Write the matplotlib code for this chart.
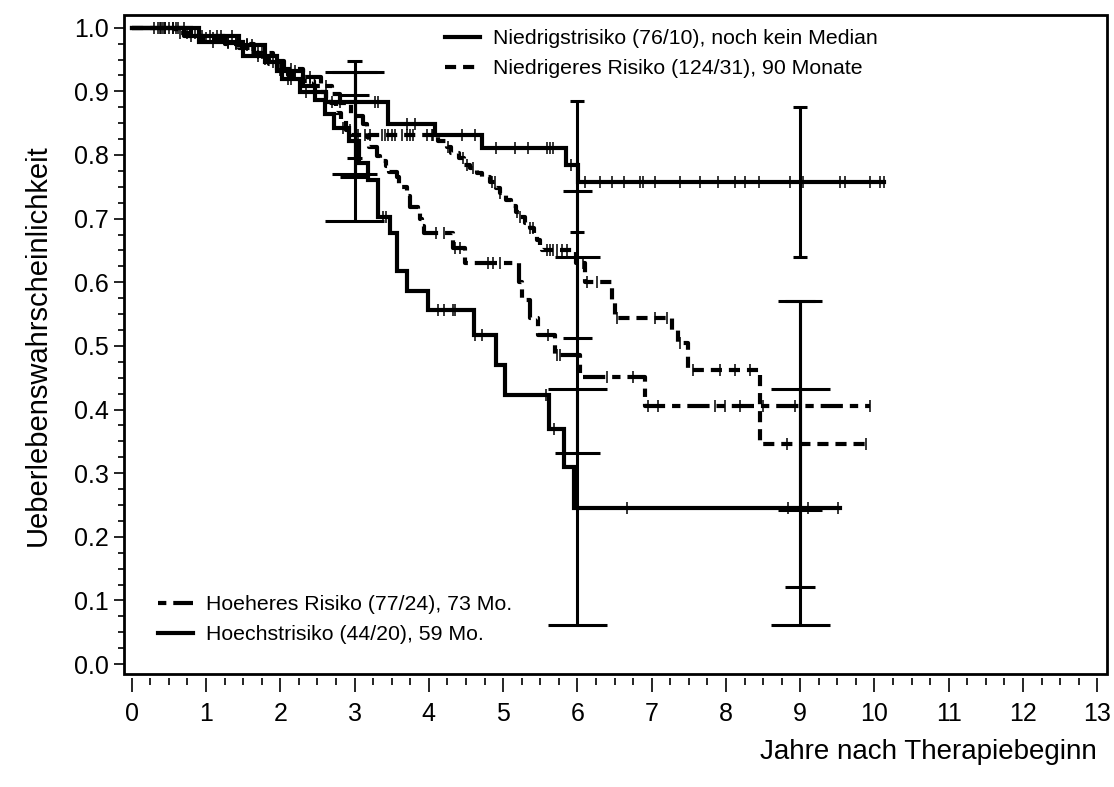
import matplotlib
matplotlib.use("Agg")
import matplotlib.pyplot as plt
from matplotlib.lines import Line2D
from matplotlib.patches import Rectangle
import numpy as np

plt.rcParams["font.family"] = ["Liberation Sans", "DejaVu Sans"]
plt.rcParams["lines.scale_dashes"] = False

# Kaplan-Meier curves: event times (years) and survival after each step,
# last follow-up time and censoring times per risk group

# Niedrigstrisiko
low_t = [0.80, 1.45, 1.80, 2.02, 2.26, 2.62, 3.45, 4.08, 4.72, 5.85, 6.01]
low_s = [0.987, 0.973, 0.946, 0.920, 0.899, 0.884, 0.849, 0.832, 0.811, 0.785, 0.757]
low_end = 10.13
low_cens = [0.35, 0.42, 0.50, 0.62, 0.70, 0.95, 1.05, 1.20, 1.35, 1.55, 1.62,
            1.90, 2.10, 2.15, 2.35, 2.45, 2.70, 2.80, 3.27, 3.32, 3.70, 3.81,
            4.45, 4.62, 4.91, 5.16, 5.34, 5.59, 5.63, 5.67, 5.92, 6.10, 6.30,
            6.46, 6.63, 6.84, 6.88, 7.05, 7.38, 7.65, 7.89, 8.12, 8.25, 8.45,
            8.86, 9.04, 9.53, 9.60, 9.94, 10.07, 10.13]

# Niedrigeres Risiko
lower_t = [0.60, 0.90, 1.20, 1.45, 1.60, 1.75, 1.85, 1.95, 2.10, 2.30, 2.45,
           2.55, 2.62, 2.68, 2.75, 2.82, 2.88, 2.95,
           4.12, 4.24, 4.30, 4.40, 4.48, 4.55, 4.65, 4.72, 4.82, 4.90, 4.96,
           5.04, 5.10, 5.18, 5.23, 5.30, 5.36, 5.42, 5.46, 5.50, 5.52,
           5.98, 6.10, 6.46, 6.50, 7.27, 7.36, 7.49, 8.46]
lower_s = [0.992, 0.984, 0.976, 0.968, 0.960, 0.951, 0.943, 0.934, 0.926, 0.917, 0.908,
           0.899, 0.890, 0.881, 0.866, 0.857, 0.840, 0.832,
           0.822, 0.813, 0.803, 0.795, 0.785, 0.779, 0.772, 0.766, 0.757, 0.748, 0.740,
           0.730, 0.720, 0.710, 0.703, 0.693, 0.685, 0.675, 0.667, 0.656, 0.651,
           0.630, 0.601, 0.572, 0.544, 0.525, 0.504, 0.462, 0.346]
lower_end = 9.89
lower_cens = [0.30, 0.38, 0.45, 0.55, 0.65, 0.75, 0.85, 1.00, 1.10, 1.30, 1.40,
              1.50, 1.70, 1.80, 2.00, 2.20, 2.40, 2.94, 3.05, 3.14, 3.21, 3.37,
              3.41, 3.45, 3.50, 3.55, 3.64, 3.71, 3.75, 3.79, 3.97, 4.04, 4.06,
              4.26, 4.46, 4.51, 4.59, 4.85, 4.89, 4.96, 5.19, 5.23, 5.36, 5.40,
              5.59, 5.63, 5.67, 5.72, 5.79, 5.86, 6.07, 6.13, 6.27, 6.53, 7.04,
              7.21, 7.38, 7.55, 7.92, 8.12, 8.32, 8.82, 9.89]

# Hoeheres Risiko
higher_t = [0.70, 1.25, 1.65, 1.90, 2.05, 2.30, 2.55, 2.70, 2.80, 2.95, 3.12,
            3.17, 3.20, 3.30, 3.34, 3.43, 3.47, 3.57, 3.60, 3.70, 3.74, 3.85,
            3.88, 3.91, 3.93, 4.33, 4.49, 5.21, 5.25, 5.36, 5.47, 5.70, 6.03, 6.91]
higher_s = [0.987, 0.974, 0.961, 0.948, 0.935, 0.922, 0.909, 0.896, 0.882, 0.862, 0.848,
            0.829, 0.813, 0.798, 0.790, 0.782, 0.774, 0.766, 0.750, 0.735, 0.719, 0.714,
            0.700, 0.688, 0.677, 0.654, 0.630, 0.601, 0.572, 0.544, 0.517, 0.486, 0.451, 0.405]
higher_end = 9.94
higher_cens = [0.40, 0.55, 0.80, 0.90, 1.15, 1.40, 1.55, 1.75, 2.15, 2.40, 2.62,
               4.10, 4.20, 4.35, 4.42, 4.80, 4.86, 4.96, 5.60, 5.72, 5.76,
               6.40, 6.75, 6.95, 7.08, 7.85, 7.99, 8.19, 8.50, 8.93, 9.94]

# Hoechstrisiko
highest_t = [0.90, 1.50, 1.95, 2.30, 2.47, 2.60, 2.72, 2.92, 3.06, 3.18, 3.31,
             3.48, 3.57, 3.71, 3.99, 4.61, 4.91, 5.02, 5.62, 5.82, 5.96]
highest_s = [0.977, 0.955, 0.932, 0.909, 0.886, 0.865, 0.843, 0.822, 0.788, 0.761, 0.703,
             0.677, 0.617, 0.587, 0.556, 0.517, 0.470, 0.423, 0.369, 0.310, 0.246]
highest_end = 9.53
highest_cens = [0.45, 0.60, 1.10, 1.30, 1.70, 2.20, 2.85, 3.38, 3.42, 4.12, 4.21,
                4.32, 4.35, 4.62, 4.72, 5.58, 5.69, 6.67, 8.83, 9.11, 9.51]

# pointwise confidence limits at 3, 6 and 9 years
ci_years = [3, 6, 9]
low_ci_lo = [0.795, 0.679, 0.639]
low_ci_hi = [0.947, 0.885, 0.875]
lower_ci_lo = [0.765, 0.512, 0.121]
lower_ci_hi = [0.895, 0.744, 0.571]
higher_ci_lo = [0.770, 0.331, 0.242]
higher_ci_hi = [0.930, 0.639, 0.571]
highest_ci_lo = [0.697, 0.061, 0.061]
highest_ci_hi = [0.930, 0.432, 0.432]

labels = [
    "Niedrigstrisiko (76/10), noch kein Median",
    "Niedrigeres Risiko (124/31), 90 Monate",
    "Hoeheres Risiko (77/24), 73 Mo.",
    "Hoechstrisiko (44/20), 59 Mo.",
]

LW = 3.0
SOLID = (None, None)
SHORT_DASH = (0, (8, 5))
LONG_SHORT = (0, (16, 5, 6, 5))


def step_xy(times, surv, end):
    x = np.concatenate([[0.0], times, [end]])
    y = np.concatenate([[1.0], surv, [surv[-1]]])
    return x, y


def surv_at(times, surv, pts):
    idx = np.searchsorted(times, pts, side="right")
    vals = np.concatenate([[1.0], surv])
    return vals[idx]


def plot_group(ax, times, surv, end, cens, ci_lo, ci_hi, cap, style):
    x, y = step_xy(times, surv, end)
    line, = ax.step(x, y, where="post", color="black", linewidth=LW,
                    solid_joinstyle="miter")
    if style != SOLID:
        line.set_linestyle(style)
    cy = surv_at(np.array(times), np.array(surv), np.array(cens))
    ax.plot(cens, cy, linestyle="none", marker="|", markersize=9,
            markeredgewidth=1.1, color="black")
    ax.vlines(ci_years, ci_lo, ci_hi, color="black", linewidth=2.2)
    xs = np.array(ci_years, dtype=float)
    ax.hlines(ci_lo, xs - cap / 2, xs + cap / 2, color="black", linewidth=2.2)
    ax.hlines(ci_hi, xs - cap / 2, xs + cap / 2, color="black", linewidth=2.2)


fig = plt.figure(figsize=(11.14, 7.87), dpi=100)
ax = fig.add_axes([0.1113, 0.1432, 0.8824, 0.8378])

plot_group(ax, low_t, low_s, low_end, low_cens, low_ci_lo, low_ci_hi, 0.19, SOLID)
plot_group(ax, lower_t, lower_s, lower_end, lower_cens, lower_ci_lo, lower_ci_hi, 0.40, SHORT_DASH)
plot_group(ax, higher_t, higher_s, higher_end, higher_cens, higher_ci_lo, higher_ci_hi, 0.60, LONG_SHORT)
plot_group(ax, highest_t, highest_s, highest_end, highest_cens, highest_ci_lo, highest_ci_hi, 0.80, SOLID)

ax.set_xlim(-0.104, 13.13)
ax.set_ylim(-0.016, 1.02)

ax.set_xticks(np.arange(0, 14, 1))
ax.set_xticks(np.arange(0, 13.01, 0.25), minor=True)
ax.set_yticks(np.round(np.arange(0, 1.01, 0.1), 1))
ax.set_yticks(np.arange(0, 1.001, 0.025), minor=True)
ax.set_yticklabels([f"{v:.1f}" for v in np.arange(0, 1.01, 0.1)])

ax.tick_params(axis="both", which="major", labelsize=18, width=1.2, color="black")
ax.tick_params(axis="x", which="major", length=10, pad=7)
ax.tick_params(axis="x", which="minor", length=5, width=1.2)
ax.tick_params(axis="y", which="major", length=7, pad=4)
ax.tick_params(axis="y", which="minor", length=4, width=1.2)

# x ticks sit slightly below the frame
ax.spines["bottom"].set_position(("outward", 3))
for side in ["top", "bottom", "left", "right"]:
    ax.spines[side].set_visible(False)
ax.add_patch(Rectangle((0, 0), 1, 1, transform=ax.transAxes, fill=False,
                       linewidth=2.0, edgecolor="black", clip_on=False, zorder=5))

ax.set_ylabel("Ueberlebenswahrscheinlichkeit", fontsize=21, labelpad=16)
ax.set_xlabel("Jahre nach Therapiebeginn", fontsize=20, ha="right")
ax.xaxis.set_label_coords(0.99, -0.098)

h1 = [Line2D([], [], color="black", linewidth=LW),
      Line2D([], [], color="black", linewidth=LW, linestyle=SHORT_DASH)]
h2 = [Line2D([], [], color="black", linewidth=LW, linestyle=(0, (6, 5, 16, 5))),
      Line2D([], [], color="black", linewidth=LW)]

leg_kw = dict(frameon=False, fontsize=15.3, handlelength=1.65, handletextpad=0.6,
              labelspacing=0.5, borderpad=0, borderaxespad=0)
leg1 = ax.legend(h1, labels[:2], loc="upper left", bbox_to_anchor=(0.3266, 0.978), **leg_kw)
ax.add_artist(leg1)
ax.legend(h2, labels[2:], loc="lower left", bbox_to_anchor=(0.035, 0.046), **leg_kw)

fig.savefig("out.png", dpi=100)
